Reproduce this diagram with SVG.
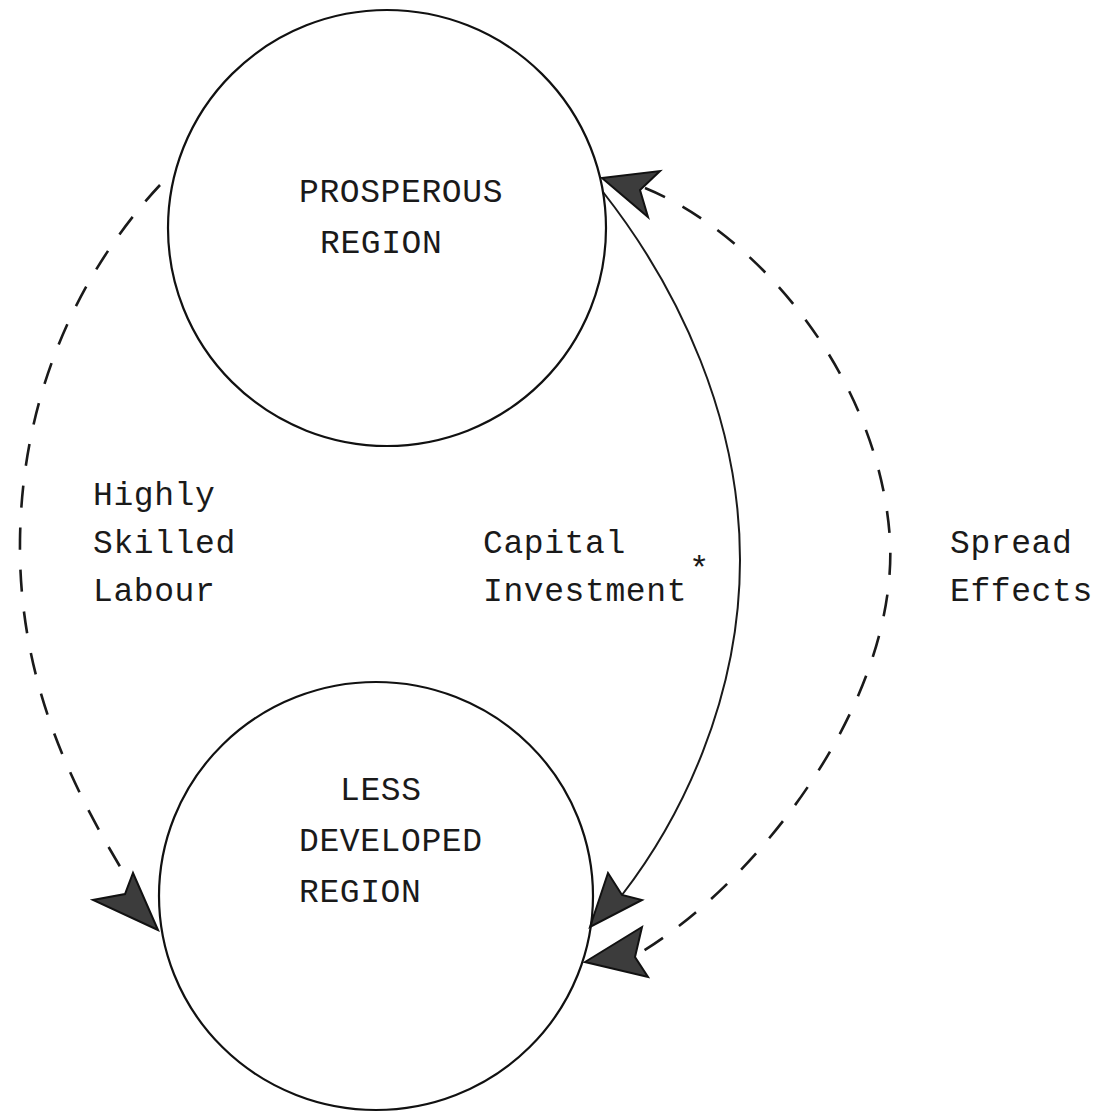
<svg xmlns="http://www.w3.org/2000/svg" width="1099" height="1112" viewBox="0 0 1099 1112">
<style>
.node{fill:none;stroke:#111;stroke-width:2.2}
.lbl{font-family:"Liberation Mono","DejaVu Sans Mono",monospace;font-size:33px;fill:#1a1a1a;letter-spacing:0.6px}
.dash{fill:none;stroke:#1a1a1a;stroke-width:2.6;stroke-dasharray:22 20;stroke-linecap:butt}
.solid{fill:none;stroke:#1a1a1a;stroke-width:2}
.head{fill:#3c3c3c;stroke:#111;stroke-width:2;stroke-linejoin:miter}
</style>
<rect width="1099" height="1112" fill="#fff"/>
<g id="connectors">
  <g id="labour">
    <path class="dash" d="M160,185 C90,260 22,380 20,540 C18,690 80,800 128,880"/>
    <polygon class="head" points="158,930 93,900 125,894 133,873"/>
  </g>
  <g id="capital">
    <path class="solid" d="M603,192 C680,290 740,420 740,560 C740,700 680,820 622,895"/>
    <polygon class="head" points="590,927 608,873 622,895 642,900"/>
  </g>
  <g id="spread">
    <path class="dash" d="M645,188 C760,235 880,380 890,540 C898,700 760,880 640,953"/>
    <polygon class="head" points="602,178 660,171 640,190 648,217"/>
    <polygon class="head" points="585,962 642,927 635,957 648,977"/>
  </g>
</g>
<g id="prosperous">
  <ellipse class="node" cx="387" cy="228" rx="219" ry="218"/>
  <text class="lbl" x="299" y="202">PROSPEROUS</text>
  <text class="lbl" x="320" y="253">REGION</text>
</g>
<g id="less-developed">
  <ellipse class="node" cx="376" cy="896" rx="217" ry="214"/>
  <text class="lbl" x="340" y="800">LESS</text>
  <text class="lbl" x="299" y="851">DEVELOPED</text>
  <text class="lbl" x="299" y="902">REGION</text>
</g>
<g id="label-labour">
  <text class="lbl" x="93" y="505">Highly</text>
  <text class="lbl" x="93" y="553">Skilled</text>
  <text class="lbl" x="93" y="601">Labour</text>
</g>
<g id="label-capital">
  <text class="lbl" x="483" y="553">Capital</text>
  <text class="lbl" x="483" y="601">Investment<tspan dx="2" dy="-22" font-size="34">*</tspan></text>
</g>
<g id="label-spread">
  <text class="lbl" x="950" y="553">Spread</text>
  <text class="lbl" x="950" y="601">Effects</text>
</g>
</svg>
